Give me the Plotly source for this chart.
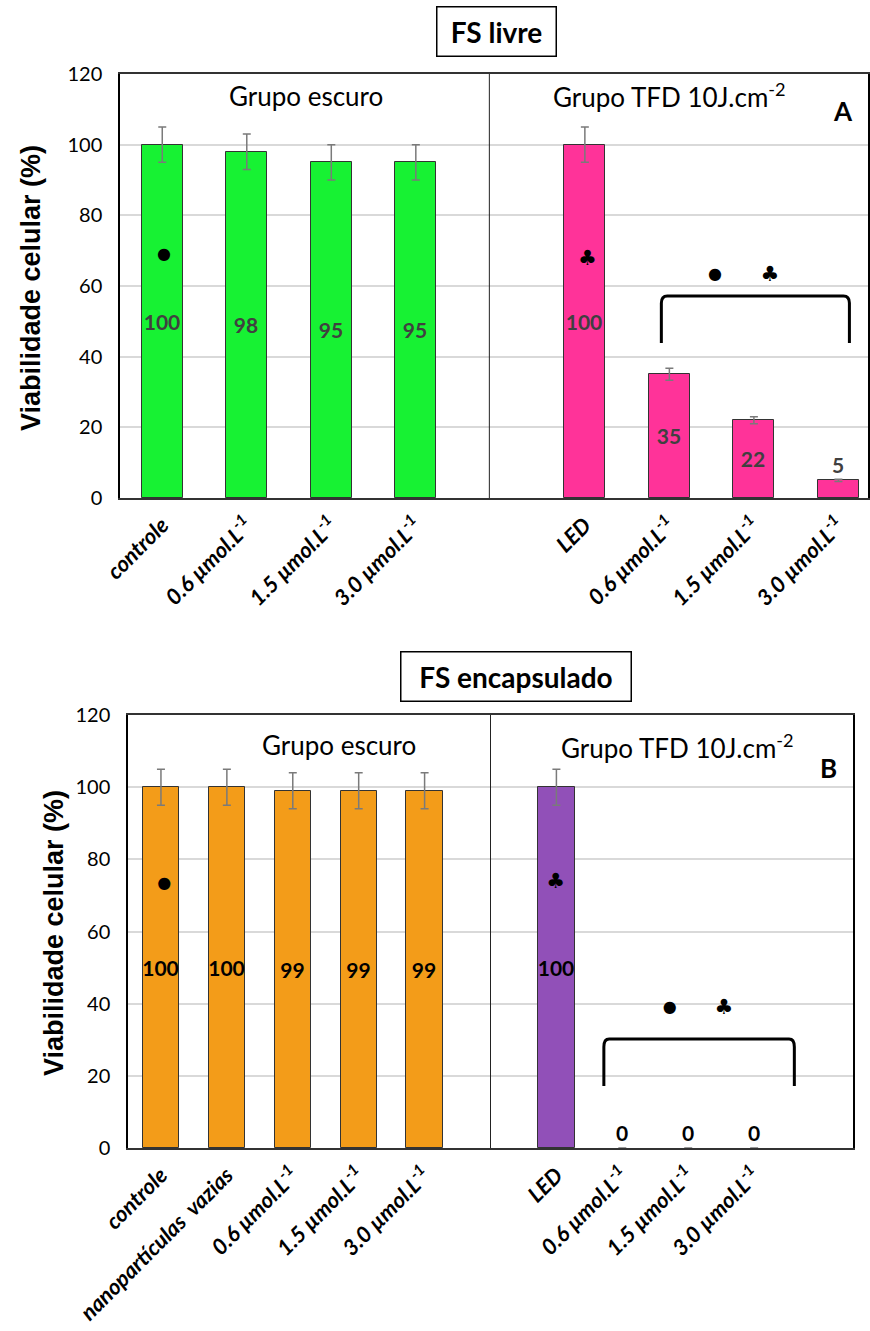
import plotly.graph_objects as go

# ---------------- data ----------------
sup = "µmol.L<sup>-1</sup>"
top_labels = ["controle", "0.6 " + sup, "1.5 " + sup, "3.0 " + sup,
              "LED", "0.6 " + sup, "1.5 " + sup, "3.0 " + sup]
top_dark_vals = [100, 98, 95, 95]
top_dark_err = [5, 5, 5, 5]
top_tfd_vals = [100, 35, 22, 5]
top_tfd_err = [5, 1.7, 1.0, 0.3]

bot_labels = ["controle", "nanopartículas  vazias", "0.6 " + sup, "1.5 " + sup, "3.0 " + sup,
              "LED", "0.6 " + sup, "1.5 " + sup, "3.0 " + sup]
bot_dark_vals = [100, 100, 99, 99, 99]
bot_dark_err = [5, 5, 5, 5, 5]
bot_tfd_vals = [100, 0, 0, 0]
bot_tfd_err = [5, 0, 0, 0]

# significance symbols (x slot, y value, symbol)
top_sym_x = [1.02, 6.03, 7.54, 8.19]
top_sym_y = [68.8, 67.4, 63.2, 62.8]
bot_sym_x = [1.05, 6.99, 8.72, 9.54]
bot_sym_y = [73.2, 73.5, 38.9, 38.6]
sym_text = ["●", "♣", "●", "♣"]

# brackets: x left, x right, y top, y bottom
top_bracket = [6.905, 9.13, 57.2, 43.9]
bot_bracket = [7.72, 10.61, 30.2, 17.2]

# ---------------- figure ----------------
W, H = 870, 1331
fig = go.Figure()

def px2paper_x(px):
    return px / W

def px2paper_y(py):
    return 1 - py / H

GREEN = "#17F233"
PINK = "#FF3399"
ORANGE = "#F39C19"
PURPLE = "#9150B8"

def bar_trace(xs, vals, errs, colors, textcolor, xa, ya, width, positions):
    return go.Bar(
        x=xs, y=vals, width=width,
        marker=dict(color=colors, line=dict(color="#333333",
                                            width=[1 if v > 0 else 0 for v in vals])),
        error_y=dict(type="data", array=errs, color="#7a7a7a", thickness=1.5, width=4),
        text=[str(v) for v in vals], textposition=positions, textangle=0,
        constraintext="none", cliponaxis=False,
        textfont=dict(family="Lato", size=21, color=textcolor, weight="bold"),
        insidetextanchor="middle",
        xaxis=xa, yaxis=ya, showlegend=False, hoverinfo="skip",
    )

# top panel
top_x_dark = [1, 2, 3, 4]
top_x_tfd = [6, 7, 8, 9]
fig.add_trace(bar_trace(top_x_dark, top_dark_vals, top_dark_err, GREEN, "#404040", "x", "y", 0.485,
                        ["inside"] * 4))
fig.add_trace(bar_trace(top_x_tfd, top_tfd_vals, top_tfd_err, PINK, "#404040", "x", "y", 0.485,
                        ["inside", "inside", "inside", "outside"]))

# bottom panel
bot_x_dark = [1, 2, 3, 4, 5]
bot_x_tfd = [7, 8, 9, 10]
fig.add_trace(bar_trace(bot_x_dark, bot_dark_vals, bot_dark_err, ORANGE, "#000000", "x2", "y2", 0.55,
                        ["inside"] * 5))
fig.add_trace(bar_trace(bot_x_tfd, bot_tfd_vals, bot_tfd_err, PURPLE, "#000000", "x2", "y2", 0.55,
                        ["inside", "outside", "outside", "outside"]))

sym_sizes = [16 if s == "●" else 21 for s in sym_text]
fig.add_trace(go.Scatter(x=top_sym_x, y=top_sym_y, text=sym_text, mode="text",
                         textfont=dict(family="DejaVu Sans", size=sym_sizes, color="black"),
                         xaxis="x", yaxis="y", showlegend=False, hoverinfo="skip"))
fig.add_trace(go.Scatter(x=bot_sym_x, y=bot_sym_y, text=sym_text, mode="text",
                         textfont=dict(family="DejaVu Sans", size=sym_sizes, color="black"),
                         xaxis="x2", yaxis="y2", showlegend=False, hoverinfo="skip"))

def bracket_path(b, dx, dy):
    x0, x1, yt, yb = b
    return (f"M {x0},{yb} L {x0},{yt - dy} Q {x0},{yt} {x0 + dx},{yt} "
            f"L {x1 - dx},{yt} Q {x1},{yt} {x1},{yt - dy} L {x1},{yb}")

shapes = [
    dict(type="path", path=bracket_path(top_bracket, 0.07, 2.0), xref="x", yref="y",
         line=dict(color="black", width=3)),
    dict(type="path", path=bracket_path(bot_bracket, 0.08, 2.2), xref="x2", yref="y2",
         line=dict(color="black", width=3)),
    dict(type="line", x0=4.87, x1=4.87, y0=-0.5, y1=120, xref="x", yref="y",
         line=dict(color="#222222", width=1)),
    dict(type="line", x0=6.0, x1=6.0, y0=0, y1=120, xref="x2", yref="y2",
         line=dict(color="#222222", width=1)),
]

tick_font = dict(family="Lato", size=20, color="black")
xtick_font = dict(family="Lato", size=22, color="black", weight="bold", style="italic")

common_y = dict(range=[0, 120], dtick=20, showgrid=True, gridcolor="#d9d9d9", gridwidth=1.5,
                showline=True, mirror=True, linecolor="black", linewidth=1.5,
                ticks="", tickfont=tick_font, zeroline=False, ticklabelstandoff=12,
                automargin=False)
common_x = dict(showgrid=False, showline=True, mirror=True, linecolor="#333333", linewidth=1.5,
                ticks="", tickfont=xtick_font, tickangle=-45, zeroline=False,
                ticklabelstandoff=4, automargin=False)

fig.update_layout(
    width=W, height=H, autosize=False,
    margin=dict(l=0, r=0, t=0, b=0, pad=0, autoexpand=False),
    paper_bgcolor="white", plot_bgcolor="white",
    bargap=0,
    xaxis=dict(domain=[px2paper_x(120), px2paper_x(868)], range=[0.5, 9.35],
               tickvals=top_x_dark + top_x_tfd, ticktext=top_labels, anchor="y", **common_x),
    yaxis=dict(domain=[px2paper_y(498), px2paper_y(74)], anchor="x", **common_y),
    xaxis2=dict(domain=[px2paper_x(128), px2paper_x(853)], range=[0.5, 11.5],
                tickvals=bot_x_dark + bot_x_tfd, ticktext=bot_labels, anchor="y2", **common_x),
    yaxis2=dict(domain=[px2paper_y(1148), px2paper_y(715)], anchor="x2", **common_y),
    shapes=shapes,
)

group_font = dict(family="Lato", size=26, color="black")
annotations = [
    # panel texts
    dict(x=2.70, y=113.7, xref="x", yref="y", text="Grupo escuro", showarrow=False, font=group_font),
    dict(x=7.0, y=113.9, xref="x", yref="y", text="Grupo TFD 10J.cm<sup>-2</sup>", showarrow=False,
         font=group_font),
    dict(x=9.06, y=109.6, xref="x", yref="y", text="<b>A</b>", showarrow=False,
         font=dict(family="Lato", size=26, color="black")),
    dict(x=3.70, y=111.7, xref="x2", yref="y2", text="Grupo escuro", showarrow=False, font=group_font),
    dict(x=8.83, y=111.4, xref="x2", yref="y2", text="Grupo TFD 10J.cm<sup>-2</sup>", showarrow=False,
         font=group_font),
    dict(x=11.13, y=105.2, xref="x2", yref="y2", text="<b>B</b>", showarrow=False,
         font=dict(family="Lato", size=26, color="black")),
    # titles in boxes
    dict(x=px2paper_x(496.5), y=px2paper_y(31.5), xref="paper", yref="paper", text="<b>FS livre</b>",
         showarrow=False, font=dict(family="Lato", size=28, color="black"),
         bordercolor="black", borderwidth=1.5, borderpad=0, width=118, height=48,
         xanchor="center", yanchor="middle", bgcolor="white"),
    dict(x=px2paper_x(516), y=px2paper_y(676.5), xref="paper", yref="paper", text="<b>FS encapsulado</b>",
         showarrow=False, font=dict(family="Lato", size=28, color="black"),
         bordercolor="black", borderwidth=1.5, borderpad=0, width=229, height=48,
         xanchor="center", yanchor="middle", bgcolor="white"),
    # y titles
    dict(x=px2paper_x(31), y=px2paper_y(288), xref="paper", yref="paper",
         text="<b>Viabilidade celular (%)</b>", textangle=-90, showarrow=False,
         font=dict(family="Liberation Sans", size=27, color="black"),
         xanchor="center", yanchor="middle"),
    dict(x=px2paper_x(54), y=px2paper_y(933), xref="paper", yref="paper",
         text="<b>Viabilidade celular (%)</b>", textangle=-90, showarrow=False,
         font=dict(family="Liberation Sans", size=27, color="black"),
         xanchor="center", yanchor="middle"),
]
fig.update_layout(annotations=annotations)

fig.write_html("out.html")
